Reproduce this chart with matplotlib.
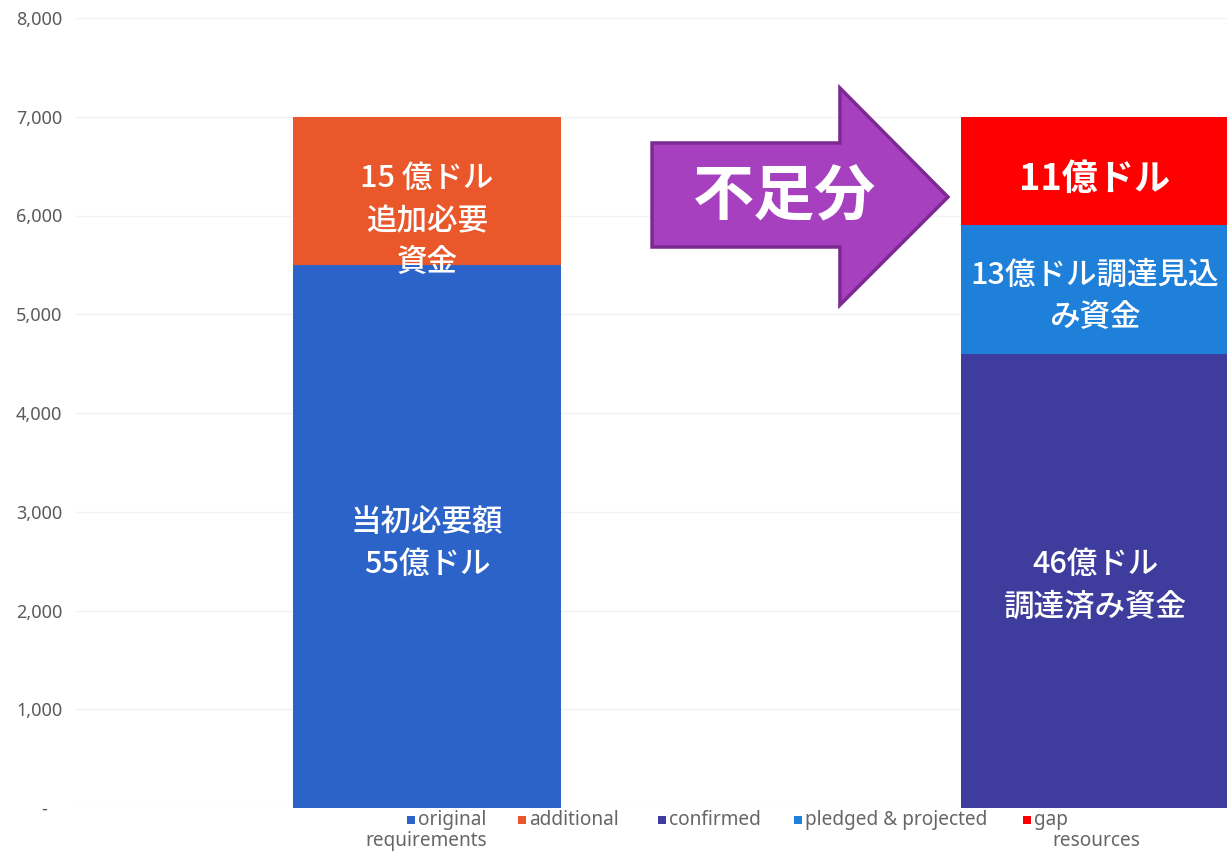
import matplotlib
matplotlib.use("Agg")
import matplotlib.pyplot as plt
from matplotlib.patches import Polygon, Rectangle
import numpy as np

plt.rcParams["font.family"] = ["Noto Sans CJK JP", "DejaVu Sans"]

# bar 0 = requirements, bar 1 = funding
positions = [0, 1]
original = [5500, 0]
additional = [1500, 0]
confirmed = [0, 4600]
pledged = [0, 1300]
gap = [0, 1100]

series_names = ["original\nrequirements", "additional", "confirmed",
                "pledged & projected", "gap\nresources"]
series_colors = ["#2c63c9", "#e9572b", "#3e3d9e", "#1f80da", "#ff0000"]

yticks = [0, 1000, 2000, 3000, 4000, 5000, 6000, 7000, 8000]

seg_labels = [
    (0, "original", "当初必要額\n55億ドル", -70, 22, "medium"),
    (0, "additional", "15 億ドル\n追加必要\n資金", -300, 22, "medium"),
    (1, "confirmed", "46億ドル\n調達済み資金", -50, 22, "medium"),
    (1, "pledged", "13億ドル調達見込\nみ資金", -70, 22, "medium"),
    (1, "gap", "11億ドル", -90, 26, "bold"),
]

fig = plt.figure(figsize=(12.27, 8.52), dpi=100)
ax = fig.add_axes([75 / 1227, 44 / 852, 1152 / 1227, 790 / 852])

w = 0.401
stack = {}
bottom = np.zeros(2)
for key, vals, color in [("original", original, series_colors[0]),
                         ("additional", additional, series_colors[1]),
                         ("confirmed", confirmed, series_colors[2]),
                         ("pledged", pledged, series_colors[3]),
                         ("gap", gap, series_colors[4])]:
    vals = np.array(vals, dtype=float)
    ax.bar(positions, vals, w, bottom=bottom, color=color, linewidth=0, zorder=2)
    stack[key] = (bottom.copy(), vals)
    bottom = bottom + vals

for i, key, text, dy, fs, fw in seg_labels:
    b, v = stack[key]
    ax.text(positions[i], b[i] + v[i] / 2 + dy, text, ha="center", va="center",
            color="white", fontsize=fs, fontweight=fw, linespacing=1.45, zorder=4)

ax.set_xlim(-0.527, 1.1976)
ax.set_ylim(0, 8000)
ax.set_yticks(yticks)
ax.set_yticklabels(["-   " if v == 0 else f"{v:,}" for v in yticks],
                   family="Noto Sans", fontsize=13, color="#5a5a5a")
ax.tick_params(axis="y", length=0, pad=9)
ax.set_xticks([])
for s in ax.spines.values():
    s.set_visible(False)
ax.grid(axis="y", color="#f3f3f3", linewidth=1, zorder=0)

# purple arrow "不足分"
arrow = [(0.5009, 0.7101), (0.664, 0.7101), (0.664, 0.6367), (0.7578, 0.7734),
         (0.664, 0.9114), (0.664, 0.8418), (0.5009, 0.8418)]
ax.add_patch(Polygon(arrow, closed=True, transform=ax.transAxes, facecolor="#a640bf",
                     edgecolor="#7b2a92", linewidth=2.5, zorder=5, clip_on=False))
ax.text(0.5009 + 0.115, 0.772, "不足分", transform=ax.transAxes, ha="center", va="center",
        color="white", fontsize=44, fontweight="bold", zorder=6)

# legend row under the axes
leg_x = [411, 522, 662, 798, 1027]
for name, color, px in zip(series_names, series_colors, leg_x):
    fig.add_artist(Rectangle(((px - 4) / 1227, (852 - 824) / 852), 8 / 1227, 8 / 852,
                             transform=fig.transFigure, facecolor=color, edgecolor="none"))
    first, *rest = name.split("\n")
    fig.text((px + 7) / 1227, (852 - 820) / 852, first, ha="left", va="center",
             family="Noto Sans", fontsize=13.7, color="#666666")
    if rest:
        x2 = 365 if first == "original" else 1052
        fig.text(x2 / 1227, (852 - 841) / 852, rest[0], ha="left", va="center",
                 family="Noto Sans", fontsize=13.7, color="#666666")

fig.savefig("out.png", dpi=100)
